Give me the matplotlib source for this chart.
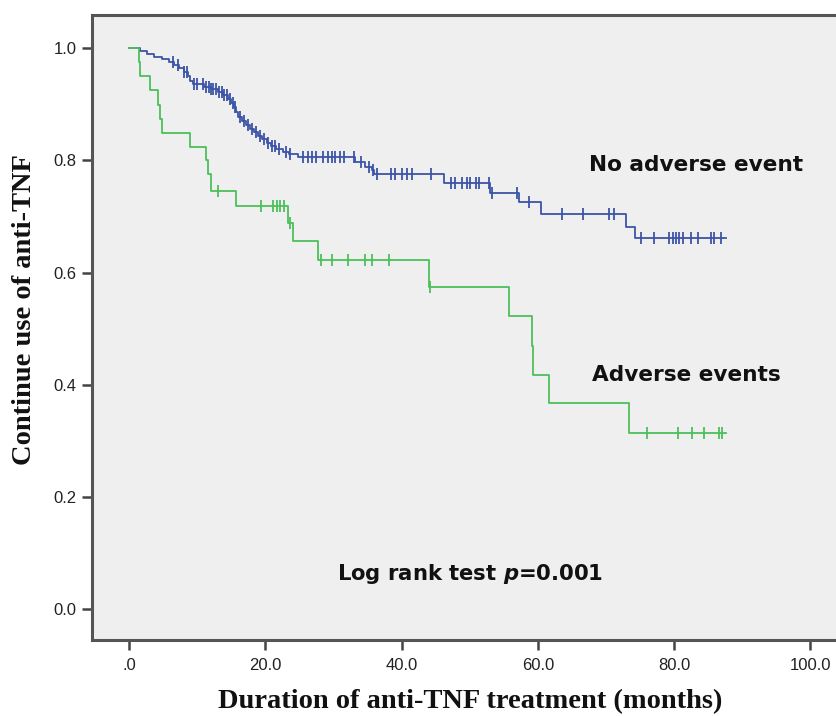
import numpy as np
import matplotlib
matplotlib.use("Agg")
import matplotlib.pyplot as plt

plt.rcParams['mathtext.fontset'] = 'custom'
plt.rcParams['mathtext.it'] = 'DejaVu Sans:italic:bold'
plt.rcParams['mathtext.rm'] = 'DejaVu Sans:bold'

# ---- data: Kaplan-Meier step functions (event time, survival after event) ----
blue_times = [1.6, 2.6, 3.6, 4.8, 5.8, 6.6, 7.3, 8.0, 8.6, 9.0, 9.4, 11.0, 12.0, 13.0,
              13.8, 14.6, 15.0, 15.4, 15.7, 16.0, 16.6, 17.2, 17.7, 18.3, 18.9, 19.5,
              20.2, 20.8, 21.6, 22.6, 23.5, 24.8, 33.2, 34.6, 35.6, 36.0, 46.2, 53.0,
              57.3, 60.4, 72.9, 74.2]
blue_surv = [0.995, 0.990, 0.985, 0.980, 0.975, 0.970, 0.965, 0.958, 0.950, 0.942, 0.936,
             0.931, 0.927, 0.922, 0.917, 0.910, 0.903, 0.895, 0.886, 0.877, 0.870, 0.863,
             0.856, 0.850, 0.844, 0.838, 0.831, 0.825, 0.820, 0.815, 0.811, 0.806, 0.797,
             0.789, 0.782, 0.776, 0.760, 0.742, 0.726, 0.705, 0.681, 0.661]
blue_end = 87.6
blue_censor = [6.5, 7.2, 8.0, 8.5, 9.5, 10.0, 10.8, 11.3, 11.7, 12.0, 12.4, 12.8, 13.2,
               13.6, 14.0, 14.4, 14.8, 15.2, 15.6, 16.3, 16.9, 17.5, 18.1, 18.7, 19.2,
               19.8, 20.4, 21.0, 21.5, 22.0, 23.0, 23.7, 25.5, 26.2, 26.8, 27.5, 28.5,
               29.2, 29.8, 30.3, 31.0, 31.6, 33.0, 34.0, 35.2, 35.8, 36.4, 38.4, 39.1,
               40.1, 40.8, 41.6, 44.3, 47.2, 47.9, 48.9, 49.6, 50.1, 50.9, 51.4, 52.8,
               53.3, 57.0, 58.7, 63.6, 66.7, 70.5, 71.2, 75.1, 77.1, 79.3, 79.8, 80.3,
               80.8, 81.3, 82.5, 83.5, 85.4, 85.9, 86.9]

green_times = [1.5, 1.6, 3.1, 4.3, 4.6, 4.8, 9.0, 11.3, 11.6, 12.0, 15.7, 23.4, 24.0,
               27.7, 44.0, 55.8, 59.1, 59.3, 61.7, 73.4]
green_surv = [0.975, 0.950, 0.925, 0.899, 0.873, 0.848, 0.824, 0.800, 0.776, 0.745,
              0.718, 0.689, 0.656, 0.623, 0.575, 0.522, 0.469, 0.417, 0.367, 0.314]
green_end = 87.6
green_censor = [13.1, 19.4, 21.1, 21.7, 22.2, 22.7, 23.7, 28.2, 29.8, 32.1, 34.6, 35.7,
                38.2, 44.2, 76.0, 80.6, 82.7, 84.4, 86.6, 87.1]

x_ticks = [0, 20, 40, 60, 80, 100]
x_ticklabels = ['.0', '20.0', '40.0', '60.0', '80.0', '100.0']
y_ticks = [0.0, 0.2, 0.4, 0.6, 0.8, 1.0]
y_ticklabels = ['0.0', '0.2', '0.4', '0.6', '0.8', '1.0']

BLUE = '#3c54a6'
GREEN = '#4cbf5a'

fig = plt.figure(figsize=(8.36, 7.16), dpi=100)
ax = fig.add_axes([0.110, 0.106, 0.900, 0.873])
ax.set_facecolor('#efefef')


def km(times, surv, end, censor, color):
    t = np.concatenate([[0.0], times, [end]])
    s = np.concatenate([[1.0], surv, [surv[-1]]])
    ax.step(t, s, where='post', color=color, lw=1.3, zorder=3)
    c = np.asarray(censor)
    idx = np.searchsorted(np.asarray(times), c, side='right')
    cs = np.concatenate([[1.0], surv])[idx]
    ax.plot(c, cs, ls='none', marker='|', ms=8, mew=1.3, color=color, zorder=4)


km(blue_times, blue_surv, blue_end, blue_censor, BLUE)
km(green_times, green_surv, green_end, green_censor, GREEN)

ax.set_xlim(-5.44, 105.0)
ax.set_ylim(-0.055, 1.059)
ax.set_xticks(x_ticks)
ax.set_xticklabels(x_ticklabels)
ax.set_yticks(y_ticks)
ax.set_yticklabels(y_ticklabels)
for lab in ax.get_xticklabels() + ax.get_yticklabels():
    lab.set_fontfamily('Liberation Sans')
    lab.set_fontsize(12)
    lab.set_color('#222222')
ax.tick_params(axis='both', direction='out', length=7, width=1.8, color='#444444')
ax.tick_params(axis='x', pad=6)
ax.tick_params(axis='y', pad=4)

for sp in ['left', 'bottom', 'top']:
    ax.spines[sp].set_color('#555555')
    ax.spines[sp].set_linewidth(2.2)
ax.spines['right'].set_visible(False)

fig.text(470 / 836, 1 - 702 / 716, 'Duration of anti-TNF treatment (months)',
         fontfamily='Liberation Serif', fontweight='bold', fontsize=20.5,
         ha='center', va='center', color='#111111')
fig.text(25 / 836, 1 - 310 / 716, 'Continue use of anti-TNF',
         fontfamily='Liberation Serif', fontweight='bold', fontsize=20.5,
         ha='center', va='center', rotation=90, color='#111111')

ax.text(67.5, 0.791, 'No adverse event', fontfamily='DejaVu Sans', fontweight='bold',
        fontsize=15.6, va='center', ha='left', color='#111111')
ax.text(68.0, 0.417, 'Adverse events', fontfamily='DejaVu Sans', fontweight='bold',
        fontsize=15.6, va='center', ha='left', color='#111111')
ax.text(30.5, 0.063, r'Log rank test $\it{p}$=0.001', fontfamily='DejaVu Sans',
        fontweight='bold', fontsize=15.2, va='center', ha='left', color='#111111')

fig.savefig('out.png', dpi=100)
